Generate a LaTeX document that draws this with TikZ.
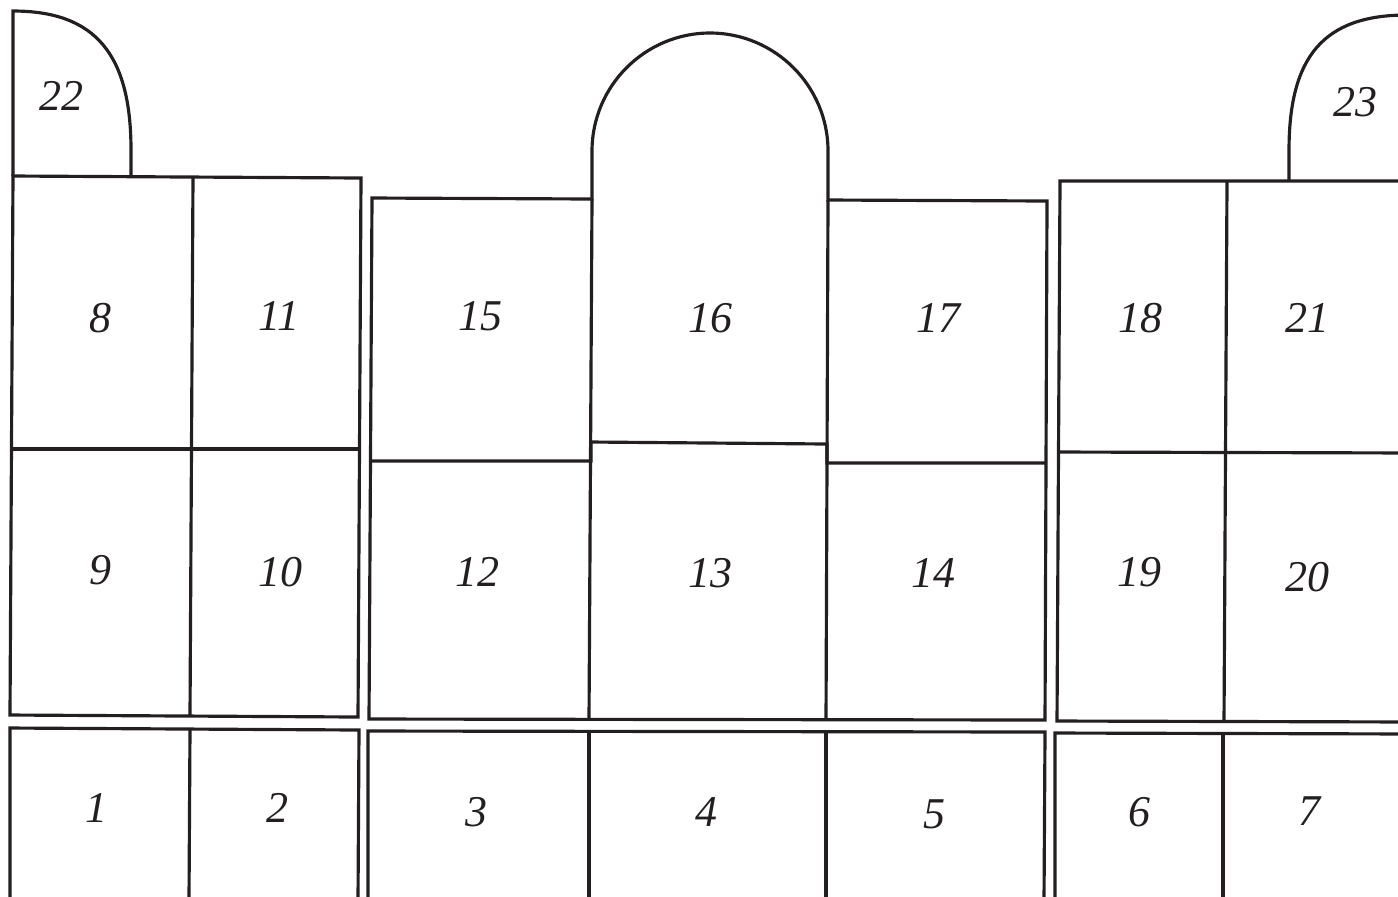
\documentclass[tikz,border=0pt]{standalone}
\usepackage{fontspec}
\setmainfont{Liberation Serif}
\usepackage{tikz}
\usetikzlibrary{positioning}
\definecolor{inkblack}{RGB}{35,31,32}
\tikzset{
    wall/.style={draw=inkblack, line width=0.9pt, line join=miter},
    numlabel/.style={text=inkblack, font=\fontsize{12.5}{14}\selectfont\itshape, inner sep=0pt}
}

\begin{document}
\begin{tikzpicture}[x=0.01cm, y=-0.01cm]

    \useasboundingbox (0,0) rectangle (1398,896);
    \clip (0,0) rectangle (1398,896);

    % 1. Bloque izquierdo (8, 9, 10, 11 y 22)
    \draw[wall] (13,176) -- (13,11) .. controls (96,11) and (131,55) .. (131,150) -- (131,176);
    \draw[wall] (13,176) -- (361,178) -- (358,717) -- (10,715) -- cycle;
    \draw[wall] (193,177) -- (190,716);
    \draw[wall] (12,449) -- (360,449);

    % 2. Bloque central (12 a 17, con el arco)
    \draw[wall] (372,198) -- (592,199) -- (592,151)
        .. controls (592,86) and (645,33) .. (710,33)
        .. controls (775,33) and (828,86) .. (828,151)
        -- (828,200) -- (1047,201) -- (1045,720) -- (369,719) -- cycle;
    \draw[wall] (592,199) -- (589,719);
    \draw[wall] (828,200) -- (826,720);
    \draw[wall] (371,461) -- (591,461) -- (591,442) -- (827,444) -- (827,463) -- (1046,463);

    % 3. Bloque derecho (18 a 21 y 23)
    \draw[wall] (1289,181) -- (1289,150) .. controls (1289,56) and (1324,15) .. (1407,15);
    \draw[wall] (1420,181) -- (1060,181) -- (1057,721) -- (1420,722);
    \draw[wall] (1227,181) -- (1224,721);
    \draw[wall] (1058,452) -- (1420,453);

    % 4. Fila inferior (1 a 7)
    \draw[wall] (10,900) -- (10,728) -- (359,730) -- (358,900);
    \draw[wall] (190,729) -- (189,900);
    \draw[wall] (368,900) -- (368,731) -- (1045,732) -- (1044,900);
    \draw[wall] (589,731) -- (589,900);
    \draw[wall] (826,732) -- (826,900);
    \draw[wall] (1055,900) -- (1055,733) -- (1420,734);
    \draw[wall] (1223,733) -- (1223,900);

    % ==========================================
    % Numeros
    % ==========================================
    \node[numlabel] (n22) at (61,96) {22};
    \node[numlabel] (n23) at (1355,102) {23};

    \node[numlabel] (n8) at (100,318) {8};
    \node[numlabel] (n11) at (279,316) {11};
    \node[numlabel] (n15) at (480,316) {15};
    \node[numlabel] (n16) at (710,318) {16};
    \node[numlabel] (n17) at (938,318) {17};
    \node[numlabel] (n18) at (1140,318) {18};
    \node[numlabel] (n21) at (1307,318) {21};

    \node[numlabel] (n9) at (100,570) {9};
    \node[numlabel] (n10) at (280,572) {10};
    \node[numlabel] (n12) at (477,572) {12};
    \node[numlabel] (n13) at (710,573) {13};
    \node[numlabel] (n14) at (933,573) {14};
    \node[numlabel] (n19) at (1139,572) {19};
    \node[numlabel] (n20) at (1307,577) {20};

    \node[numlabel] (n1) at (96,808) {1};
    \node[numlabel] (n2) at (277,808) {2};
    \node[numlabel] (n3) at (476,812) {3};
    \node[numlabel] (n4) at (706,812) {4};
    \node[numlabel] (n5) at (934,814) {5};
    \node[numlabel] (n6) at (1139,812) {6};
    \node[numlabel] (n7) at (1309,811) {7};

\end{tikzpicture}
\end{document}
